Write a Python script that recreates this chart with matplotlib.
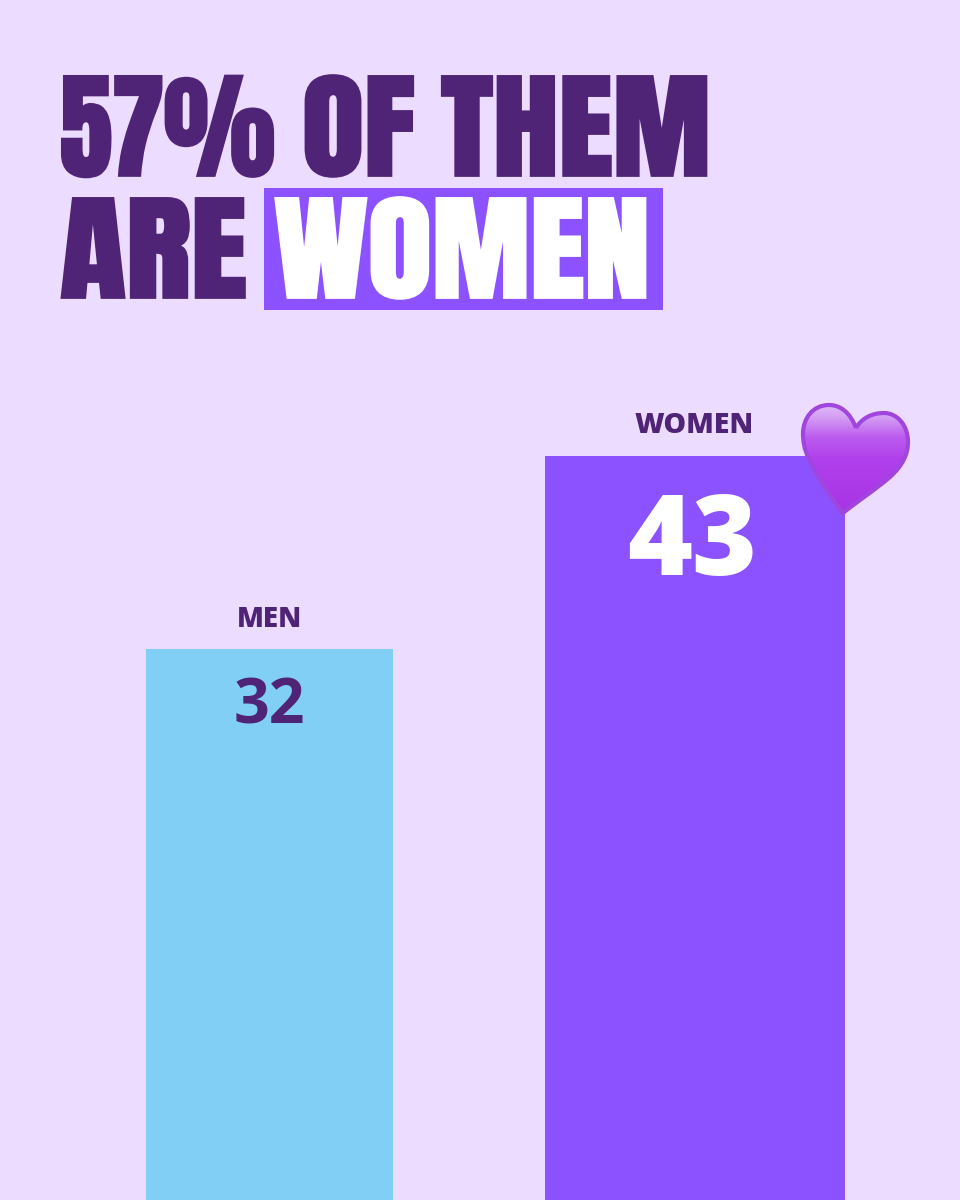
import matplotlib
matplotlib.use("Agg")
import matplotlib.pyplot as plt
import matplotlib.patheffects as pe
from matplotlib.colors import LinearSegmentedColormap
from matplotlib.path import Path
from matplotlib.patches import PathPatch, Rectangle
from matplotlib.transforms import Affine2D
import numpy as np

# values from the picture
groups = ["MEN", "WOMEN"]
counts = [32, 43]
bar_colors = ["#82CFF5", "#8C52FF"]
value_colors = ["#4F2376", "#FFFFFF"]

BG = "#ECDCFF"
DARK = "#4F2376"
PURPLE = "#8C52FF"

fig = plt.figure(figsize=(9.6, 12), dpi=100, facecolor=BG)

# bars, the baseline sits just under the bottom edge of the image
ax = fig.add_axes([0, 0, 1, 1])
ax.set_xlim(0, 960)
ax.set_ylim(0.57, 69.0)
ax.axis("off")
ax.bar([269.5, 695], counts, width=[247, 300], color=bar_colors)

# overlay in pixels for the text and the heart
ov = fig.add_axes([0, 0, 1, 1])
ov.set_xlim(0, 960)
ov.set_ylim(1200, 0)
ov.axis("off")
ov.patch.set_alpha(0)


class Widen(pe.AbstractPathEffect):
    # stretch text sideways around x0 and fatten it a bit
    def __init__(self, sx, x0, lw):
        super().__init__()
        self.sx, self.x0, self.lw = sx, x0, lw

    def draw_path(self, renderer, gc, tpath, affine, rgbFace=None):
        wide = affine + Affine2D().translate(-self.x0, 0).scale(self.sx, 1).translate(self.x0, 0)
        gc0 = renderer.new_gc()
        gc0.copy_properties(gc)
        gc0.set_foreground(rgbFace)
        gc0.set_linewidth(self.lw)
        gc0.set_joinstyle("miter")
        renderer.draw_path(gc0, tpath, wide, rgbFace)
        gc0.restore()


def heavy(left, right, y, s, color):
    t = ov.text(left, y, s, color=color, fontsize=83,
                family=["Anton", "DejaVu Sans"], ha="left", va="baseline")
    bb = t.get_window_extent(fig.canvas.get_renderer())
    t.set_path_effects([Widen((right - left) / bb.width, left, 2.0)])
    return t


heavy(60, 275, 175.5, "57%", DARK)
heavy(302, 415, 175.5, "OF", DARK)
heavy(441, 711, 175.5, "THEM", DARK)
ov.add_patch(Rectangle((264, 188), 399, 122, color=PURPLE, lw=0))
heavy(60, 247, 297.5, "ARE", DARK)
heavy(274, 650, 297.5, "WOMEN", "white")

font = ["Open Sans", "DejaVu Sans"]
ov.text(269.5, 627, groups[0], color=DARK, fontsize=20, fontweight=900,
        family=font, ha="center", va="baseline")
ov.text(694.5, 433, groups[1], color=DARK, fontsize=20.5, fontweight=900,
        family=font, ha="center", va="baseline")
ov.text(269.5, 723, str(counts[0]), color=value_colors[0], fontsize=45,
        fontweight="bold", family=font, ha="center", va="baseline")
ov.text(692, 575, str(counts[1]), color=value_colors[1], fontsize=80,
        fontweight=900, family=font, ha="center", va="baseline")

# heart
C4 = Path.CURVE4
heart = Path(
    [(856, 428),
     (850, 412), (840, 405), (829, 405),
     (813, 405), (803, 418), (803, 434),
     (803, 448), (808, 458), (813, 467),
     (822, 484), (835, 502), (843, 513),
     (855, 503), (875, 490), (890, 477),
     (902, 466), (908, 455), (908, 442),
     (908, 425), (897, 413), (884, 413),
     (872, 413), (862, 418), (856, 428)],
    [Path.MOVETO] + [C4] * 24)
cmap = LinearSegmentedColormap.from_list(
    "heart", [(0, "#E0BCF7"), (0.12, "#D59FF4"), (0.3, "#BC5CEE"),
              (0.5, "#B040EB"), (1, "#A833E5")])
shade = np.linspace(0, 1, 128).reshape(-1, 1)
im = ov.imshow(shade, extent=(800, 912, 516, 403), cmap=cmap, aspect="auto",
               interpolation="bilinear", zorder=4)
edge = PathPatch(heart, facecolor="none", edgecolor="#A045DE", lw=3, zorder=5)
ov.add_patch(edge)
im.set_clip_path(edge)
ov.set_xlim(0, 960)
ov.set_ylim(1200, 0)

fig.savefig("out.png", dpi=100, facecolor=BG)
